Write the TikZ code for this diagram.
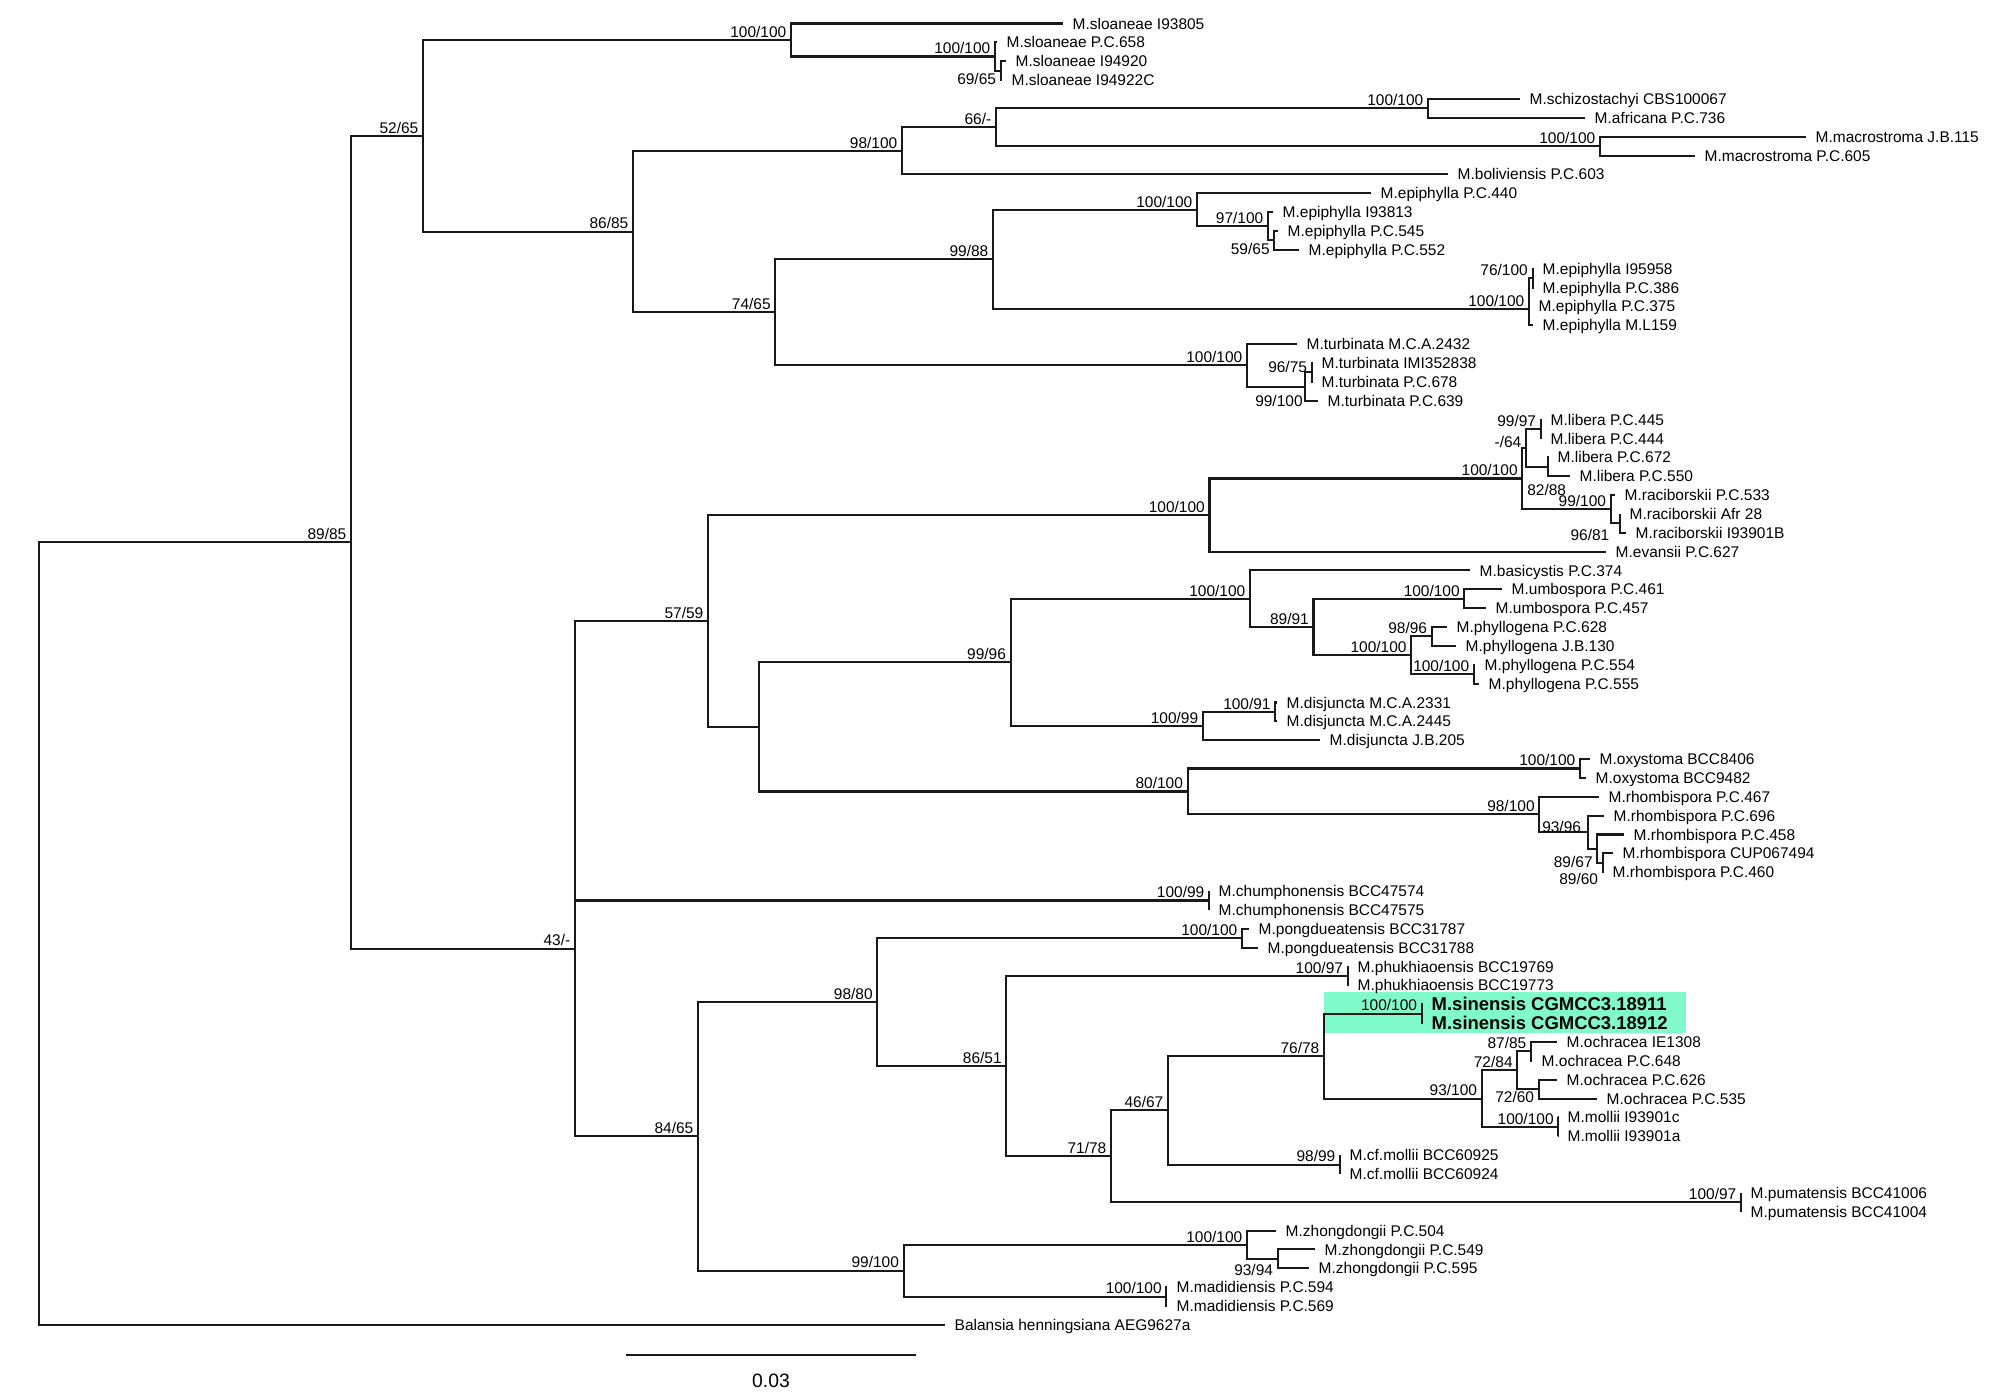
\documentclass[tikz,border=0pt]{standalone}
\usepackage{fontspec}
\setmainfont{Liberation Sans}
\usepackage{tikz}
\usetikzlibrary{positioning}
\definecolor{hilite}{RGB}{128,250,200}

\begin{document}
\begin{tikzpicture}[
        x=0.01cm, y=-0.01cm,
        branch/.style={line width=0.58pt, draw=black!90},
        leaf/.style={anchor=west, inner xsep=0.09cm, inner ysep=0.01cm, text height=3.17pt, text depth=0pt, font=\fontsize{4.4pt}{5pt}\selectfont},
        sinleaf/.style={leaf, text height=3.78pt, font=\fontsize{5.25pt}{6pt}\selectfont\bfseries},
        bs/.style={anchor=south east, inner xsep=0.04cm, inner ysep=0.02cm, text height=3.17pt, text depth=0pt, font=\fontsize{4.4pt}{5pt}\selectfont},
        bsb/.style={bs, anchor=north east},
        scalelbl/.style={inner sep=0.02cm, text height=3.96pt, text depth=0pt, font=\fontsize{5.5pt}{6pt}\selectfont}
    ]
    \useasboundingbox (0,0) rectangle (2012,1396);

    \fill[hilite] (1324,992) rectangle (1686,1032.5);

    \node[leaf] (l1) at (1063,23.5) {M.sloaneae I93805};
    \node[leaf] (l2) at (997,42.36) {M.sloaneae P.C.658};
    \node[leaf] (l3) at (1006,61.22) {M.sloaneae I94920};
    \node[leaf] (l4) at (1002,80.08) {M.sloaneae I94922C};
    \node[leaf] (l5) at (1520,98.94) {M.schizostachyi CBS100067};
    \node[leaf] (l6) at (1585,117.8) {M.africana P.C.736};
    \node[leaf] (l7) at (1806,136.66) {M.macrostroma J.B.115};
    \node[leaf] (l8) at (1695,155.52) {M.macrostroma P.C.605};
    \node[leaf] (l9) at (1448,174.38) {M.boliviensis P.C.603};
    \node[leaf] (l10) at (1371,193.24) {M.epiphylla P.C.440};
    \node[leaf] (l11) at (1273,212.1) {M.epiphylla I93813};
    \node[leaf] (l12) at (1278,230.96) {M.epiphylla P.C.545};
    \node[leaf] (l13) at (1299,249.82) {M.epiphylla P.C.552};
    \node[leaf] (l14) at (1533,268.68) {M.epiphylla I95958};
    \node[leaf] (l15) at (1533,287.54) {M.epiphylla P.C.386};
    \node[leaf] (l16) at (1529,306.4) {M.epiphylla P.C.375};
    \node[leaf] (l17) at (1533,325.26) {M.epiphylla M.L159};
    \node[leaf] (l18) at (1297,344.12) {M.turbinata M.C.A.2432};
    \node[leaf] (l19) at (1312,362.98) {M.turbinata IMI352838};
    \node[leaf] (l20) at (1312,381.84) {M.turbinata P.C.678};
    \node[leaf] (l21) at (1318,400.7) {M.turbinata P.C.639};
    \node[leaf] (l22) at (1541,419.56) {M.libera P.C.445};
    \node[leaf] (l23) at (1541,438.42) {M.libera P.C.444};
    \node[leaf] (l24) at (1548,457.28) {M.libera P.C.672};
    \node[leaf] (l25) at (1570,476.14) {M.libera P.C.550};
    \node[leaf] (l26) at (1615,495.0) {M.raciborskii P.C.533};
    \node[leaf] (l27) at (1620,513.86) {M.raciborskii Afr 28};
    \node[leaf] (l28) at (1626,532.72) {M.raciborskii I93901B};
    \node[leaf] (l29) at (1606,551.58) {M.evansii P.C.627};
    \node[leaf] (l30) at (1470,570.44) {M.basicystis P.C.374};
    \node[leaf] (l31) at (1502,589.3) {M.umbospora P.C.461};
    \node[leaf] (l32) at (1486,608.16) {M.umbospora P.C.457};
    \node[leaf] (l33) at (1447,627.02) {M.phyllogena P.C.628};
    \node[leaf] (l34) at (1456,645.88) {M.phyllogena J.B.130};
    \node[leaf] (l35) at (1475,664.74) {M.phyllogena P.C.554};
    \node[leaf] (l36) at (1479,683.6) {M.phyllogena P.C.555};
    \node[leaf] (l37) at (1277,702.46) {M.disjuncta M.C.A.2331};
    \node[leaf] (l38) at (1277,721.32) {M.disjuncta M.C.A.2445};
    \node[leaf] (l39) at (1320,740.18) {M.disjuncta J.B.205};
    \node[leaf] (l40) at (1590,759.04) {M.oxystoma BCC8406};
    \node[leaf] (l41) at (1586,777.9) {M.oxystoma BCC9482};
    \node[leaf] (l42) at (1599,796.76) {M.rhombispora P.C.467};
    \node[leaf] (l43) at (1604,815.62) {M.rhombispora P.C.696};
    \node[leaf] (l44) at (1624,834.48) {M.rhombispora P.C.458};
    \node[leaf] (l45) at (1613,853.34) {M.rhombispora CUP067494};
    \node[leaf] (l46) at (1603,872.2) {M.rhombispora P.C.460};
    \node[leaf] (l47) at (1209,891.06) {M.chumphonensis BCC47574};
    \node[leaf] (l48) at (1209,909.92) {M.chumphonensis BCC47575};
    \node[leaf] (l49) at (1249,928.78) {M.pongdueatensis BCC31787};
    \node[leaf] (l50) at (1258,947.64) {M.pongdueatensis BCC31788};
    \node[leaf] (l51) at (1348,966.5) {M.phukhiaoensis BCC19769};
    \node[leaf] (l52) at (1348,985.36) {M.phukhiaoensis BCC19773};
    \node[sinleaf] (l53) at (1422,1004.22) {M.sinensis CGMCC3.18911};
    \node[sinleaf] (l54) at (1422,1023.08) {M.sinensis CGMCC3.18912};
    \node[leaf] (l55) at (1557,1041.94) {M.ochracea IE1308};
    \node[leaf] (l56) at (1532,1060.8) {M.ochracea P.C.648};
    \node[leaf] (l57) at (1557,1079.66) {M.ochracea P.C.626};
    \node[leaf] (l58) at (1597,1098.52) {M.ochracea P.C.535};
    \node[leaf] (l59) at (1558,1117.38) {M.mollii I93901c};
    \node[leaf] (l60) at (1558,1136.24) {M.mollii I93901a};
    \node[leaf] (l61) at (1340,1155.1) {M.cf.mollii BCC60925};
    \node[leaf] (l62) at (1340,1173.96) {M.cf.mollii BCC60924};
    \node[leaf] (l63) at (1741,1192.82) {M.pumatensis BCC41006};
    \node[leaf] (l64) at (1741,1211.68) {M.pumatensis BCC41004};
    \node[leaf] (l65) at (1276,1230.54) {M.zhongdongii P.C.504};
    \node[leaf] (l66) at (1315,1249.4) {M.zhongdongii P.C.549};
    \node[leaf] (l67) at (1309,1268.26) {M.zhongdongii P.C.595};
    \node[leaf] (l68) at (1167,1287.12) {M.madidiensis P.C.594};
    \node[leaf] (l69) at (1167,1305.98) {M.madidiensis P.C.569};
    \node[leaf] (l70) at (945,1324.84) {Balansia henningsiana AEG9627a};

    \coordinate (root) at (39,933.5);
    \coordinate (ingroup) at (351,542.17);
    \coordinate (clA) at (423,135.78);
    \coordinate (sloan) at (791,40.0);
    \coordinate (sloanB) at (995,56.5);
    \coordinate (sloanC) at (1000.7,70.65);
    \coordinate (clB) at (633,231.55);
    \coordinate (macroCl) at (902,150.8);
    \coordinate (schizoCl) at (996,127.23);
    \coordinate (schizo) at (1428,108.37);
    \coordinate (macro) at (1600,146.09);
    \coordinate (epiturb) at (775.4,312.3);
    \coordinate (epi) at (993,259.25);
    \coordinate (epiA) at (1197,209.74);
    \coordinate (epiB) at (1268,226.25);
    \coordinate (epiC) at (1274.3,240.39);
    \coordinate (epiD) at (1529,308.76);
    \coordinate (epiE) at (1529,292.26);
    \coordinate (epiF) at (1532.5,278.11);
    \coordinate (turb) at (1247,365.34);
    \coordinate (turbB) at (1304.6,386.56);
    \coordinate (turbC) at (1311.7,372.41);
    \coordinate (lower) at (575,948.56);
    \coordinate (lowerB) at (575,760.73);
    \coordinate (clC) at (708,620.98);
    \coordinate (libEv) at (1209.5,515.04);
    \coordinate (libRac) at (1522.3,478.5);
    \coordinate (lib) at (1526,447.85);
    \coordinate (libA) at (1540.7,428.99);
    \coordinate (libB) at (1547.7,466.71);
    \coordinate (rac) at (1610.7,509.15);
    \coordinate (racB) at (1620,523.29);
    \coordinate (clD) at (759,726.92);
    \coordinate (umbDis) at (1010.6,662.38);
    \coordinate (basUmb) at (1250,598.73);
    \coordinate (umbPhy) at (1313.5,627.02);
    \coordinate (umbo) at (1464.4,598.73);
    \coordinate (phyl) at (1411.2,655.31);
    \coordinate (phylA) at (1431.7,636.45);
    \coordinate (phylB) at (1473.9,674.17);
    \coordinate (disj) at (1202.9,726.04);
    \coordinate (disjA) at (1275.3,711.89);
    \coordinate (oxyRho) at (1187.6,791.46);
    \coordinate (oxy) at (1580,768.47);
    \coordinate (rhomb) at (1539.3,814.44);
    \coordinate (rhombA) at (1588.3,832.12);
    \coordinate (rhombB) at (1597.3,848.63);
    \coordinate (rhombC) at (1602.7,862.77);
    \coordinate (chum) at (1209,900.49);
    \coordinate (clE) at (698,1136.39);
    \coordinate (clF) at (877.4,1002.16);
    \coordinate (pong) at (1242,938.21);
    \coordinate (clG) at (1006.4,1066.1);
    \coordinate (phuk) at (1347.7,975.93);
    \coordinate (clH) at (1111,1156.28);
    \coordinate (clI) at (1168,1110.31);
    \coordinate (sinOch) at (1324,1056.09);
    \coordinate (sin) at (1421.7,1013.65);
    \coordinate (ochMol) at (1481.7,1098.52);
    \coordinate (och) at (1517.3,1070.23);
    \coordinate (ochA) at (1531,1051.37);
    \coordinate (ochB) at (1538.7,1089.09);
    \coordinate (moll) at (1558.3,1126.81);
    \coordinate (cfmol) at (1340,1164.53);
    \coordinate (puma) at (1741,1202.25);
    \coordinate (zhoMad) at (903.6,1270.62);
    \coordinate (zho) at (1247,1244.69);
    \coordinate (zhoB) at (1277.7,1258.83);
    \coordinate (mad) at (1166.4,1296.55);

    \draw[branch] (root) |- (ingroup) (root) |- (l70.west);
    \draw[branch] (ingroup) |- (clA) (ingroup) |- (lower);
    \draw[branch] (clA) |- (sloan) (clA) |- (clB);
    \draw[branch] (sloan) |- (l1.west) (sloan) |- (sloanB);
    \draw[branch] (sloanB) |- (l2.west) (sloanB) |- (sloanC);
    \draw[branch] (sloanC) |- (l3.west) (sloanC) |- (l4.west);
    \draw[branch] (clB) |- (macroCl) (clB) |- (epiturb);
    \draw[branch] (macroCl) |- (schizoCl) (macroCl) |- (l9.west);
    \draw[branch] (schizoCl) |- (schizo) (schizoCl) |- (macro);
    \draw[branch] (schizo) |- (l5.west) (schizo) |- (l6.west);
    \draw[branch] (macro) |- (l7.west) (macro) |- (l8.west);
    \draw[branch] (epiturb) |- (epi) (epiturb) |- (turb);
    \draw[branch] (epi) |- (epiA) (epi) |- (epiD);
    \draw[branch] (epiA) |- (l10.west) (epiA) |- (epiB);
    \draw[branch] (epiB) |- (l11.west) (epiB) |- (epiC);
    \draw[branch] (epiC) |- (l12.west) (epiC) |- (l13.west);
    \draw[branch] (epiD) |- (epiE) (epiD) |- (l17.west);
    \draw[branch] (epiE) |- (epiF) (epiE) |- (l16.west);
    \draw[branch] (epiF) |- (l14.west) (epiF) |- (l15.west);
    \draw[branch] (turb) |- (l18.west) (turb) |- (turbB);
    \draw[branch] (turbB) |- (turbC) (turbB) |- (l21.west);
    \draw[branch] (turbC) |- (l19.west) (turbC) |- (l20.west);
    \draw[branch] (lower) |- (lowerB) (lower) |- (clE);
    \draw[branch] (lowerB) |- (clC) (lowerB) |- (chum);
    \draw[branch] (clC) |- (libEv) (clC) |- (clD);
    \draw[branch] (libEv) |- (libRac) (libEv) |- (l29.west);
    \draw[branch] (libRac) |- (lib) (libRac) |- (rac);
    \draw[branch] (lib) |- (libA) (lib) |- (libB);
    \draw[branch] (libA) |- (l22.west) (libA) |- (l23.west);
    \draw[branch] (libB) |- (l24.west) (libB) |- (l25.west);
    \draw[branch] (rac) |- (l26.west) (rac) |- (racB);
    \draw[branch] (racB) |- (l27.west) (racB) |- (l28.west);
    \draw[branch] (clD) |- (umbDis) (clD) |- (oxyRho);
    \draw[branch] (umbDis) |- (basUmb) (umbDis) |- (disj);
    \draw[branch] (basUmb) |- (l30.west) (basUmb) |- (umbPhy);
    \draw[branch] (umbPhy) |- (umbo) (umbPhy) |- (phyl);
    \draw[branch] (umbo) |- (l31.west) (umbo) |- (l32.west);
    \draw[branch] (phyl) |- (phylA) (phyl) |- (phylB);
    \draw[branch] (phylA) |- (l33.west) (phylA) |- (l34.west);
    \draw[branch] (phylB) |- (l35.west) (phylB) |- (l36.west);
    \draw[branch] (disj) |- (disjA) (disj) |- (l39.west);
    \draw[branch] (disjA) |- (l37.west) (disjA) |- (l38.west);
    \draw[branch] (oxyRho) |- (oxy) (oxyRho) |- (rhomb);
    \draw[branch] (oxy) |- (l40.west) (oxy) |- (l41.west);
    \draw[branch] (rhomb) |- (l42.west) (rhomb) |- (rhombA);
    \draw[branch] (rhombA) |- (l43.west) (rhombA) |- (rhombB);
    \draw[branch] (rhombB) |- (l44.west) (rhombB) |- (rhombC);
    \draw[branch] (rhombC) |- (l45.west) (rhombC) |- (l46.west);
    \draw[branch] (chum) |- (l47.west) (chum) |- (l48.west);
    \draw[branch] (clE) |- (clF) (clE) |- (zhoMad);
    \draw[branch] (clF) |- (pong) (clF) |- (clG);
    \draw[branch] (pong) |- (l49.west) (pong) |- (l50.west);
    \draw[branch] (clG) |- (phuk) (clG) |- (clH);
    \draw[branch] (phuk) |- (l51.west) (phuk) |- (l52.west);
    \draw[branch] (clH) |- (clI) (clH) |- (puma);
    \draw[branch] (clI) |- (sinOch) (clI) |- (cfmol);
    \draw[branch] (sinOch) |- (sin) (sinOch) |- (ochMol);
    \draw[branch] (sin) |- (l53.west) (sin) |- (l54.west);
    \draw[branch] (ochMol) |- (och) (ochMol) |- (moll);
    \draw[branch] (och) |- (ochA) (och) |- (ochB);
    \draw[branch] (ochA) |- (l55.west) (ochA) |- (l56.west);
    \draw[branch] (ochB) |- (l57.west) (ochB) |- (l58.west);
    \draw[branch] (moll) |- (l59.west) (moll) |- (l60.west);
    \draw[branch] (cfmol) |- (l61.west) (cfmol) |- (l62.west);
    \draw[branch] (puma) |- (l63.west) (puma) |- (l64.west);
    \draw[branch] (zhoMad) |- (zho) (zhoMad) |- (mad);
    \draw[branch] (zho) |- (l65.west) (zho) |- (zhoB);
    \draw[branch] (zhoB) |- (l66.west) (zhoB) |- (l67.west);
    \draw[branch] (mad) |- (l68.west) (mad) |- (l69.west);

    \node[bs] (s-ingroup) at (ingroup) {89/85};
    \node[bs] (s-clA) at (clA) {52/65};
    \node[bs] (s-sloan) at (sloan) {100/100};
    \node[bs] (s-sloanB) at (sloanB) {100/100};
    \node[bsb] (s-sloanC) at (sloanC) {69/65};
    \node[bs] (s-clB) at (clB) {86/85};
    \node[bs] (s-macroCl) at (macroCl) {98/100};
    \node[bs] (s-schizoCl) at (schizoCl) {66/-};
    \node[bs] (s-schizo) at (schizo) {100/100};
    \node[bs] (s-macro) at (macro) {100/100};
    \node[bs] (s-epiturb) at (epiturb) {74/65};
    \node[bs] (s-epi) at (epi) {99/88};
    \node[bs] (s-epiA) at (epiA) {100/100};
    \node[bs] (s-epiB) at (epiB) {97/100};
    \node[bsb] (s-epiC) at (epiC) {59/65};
    \node[bs] (s-epiD) at (epiD) {100/100};
    \node[bs] (s-epiF) at (epiF) {76/100};
    \node[bs] (s-turb) at (turb) {100/100};
    \node[bsb, xshift=0.027cm, yshift=-0.064cm] (s-turbB) at (turbB) {99/100};
    \node[bs, yshift=-0.03cm] (s-turbC) at (turbC) {96/75};
    \node[bs] (s-lower) at (lower) {43/-};
    \node[bs] (s-clC) at (clC) {57/59};
    \node[bs] (s-libEv) at (libEv) {100/100};
    \node[bs] (s-libRac) at (libRac) {100/100};
    \node[bs, yshift=-0.025cm] (s-lib) at (lib) {-/64};
    \node[bs] (s-libA) at (libA) {99/97};
    \node[bsb, xshift=0.23cm, yshift=-0.146cm] (s-libB) at (libB) {82/88};
    \node[bs] (s-rac) at (rac) {99/100};
    \node[bsb, xshift=-0.06cm, yshift=-0.03cm] (s-racB) at (racB) {96/81};
    \node[bs] (s-umbDis) at (umbDis) {99/96};
    \node[bs] (s-basUmb) at (basUmb) {100/100};
    \node[bs] (s-umbPhy) at (umbPhy) {89/91};
    \node[bs] (s-umbo) at (umbo) {100/100};
    \node[bs] (s-phyl) at (phyl) {100/100};
    \node[bs] (s-phylA) at (phylA) {98/96};
    \node[bs] (s-phylB) at (phylB) {100/100};
    \node[bs] (s-disj) at (disj) {100/99};
    \node[bs] (s-disjA) at (disjA) {100/91};
    \node[bs] (s-oxyRho) at (oxyRho) {80/100};
    \node[bs] (s-oxy) at (oxy) {100/100};
    \node[bs] (s-rhomb) at (rhomb) {98/100};
    \node[bs, xshift=-0.026cm, yshift=-0.03cm] (s-rhombA) at (rhombA) {93/96};
    \node[bsb, yshift=-0.05cm] (s-rhombB) at (rhombB) {89/67};
    \node[bsb, yshift=-0.075cm] (s-rhombC) at (rhombC) {89/60};
    \node[bs] (s-chum) at (chum) {100/99};
    \node[bs] (s-clE) at (clE) {84/65};
    \node[bs] (s-clF) at (clF) {98/80};
    \node[bs] (s-pong) at (pong) {100/100};
    \node[bs] (s-clG) at (clG) {86/51};
    \node[bs] (s-phuk) at (phuk) {100/97};
    \node[bs] (s-clH) at (clH) {71/78};
    \node[bs] (s-clI) at (clI) {46/67};
    \node[bs] (s-sinOch) at (sinOch) {76/78};
    \node[bs] (s-sin) at (sin) {100/100};
    \node[bs] (s-ochMol) at (ochMol) {93/100};
    \node[bs] (s-och) at (och) {72/84};
    \node[bs] (s-ochA) at (ochA) {87/85};
    \node[bsb] (s-ochB) at (ochB) {72/60};
    \node[bs] (s-moll) at (moll) {100/100};
    \node[bs] (s-cfmol) at (cfmol) {98/99};
    \node[bs] (s-puma) at (puma) {100/97};
    \node[bs] (s-zhoMad) at (zhoMad) {99/100};
    \node[bs] (s-zho) at (zho) {100/100};
    \node[bsb, yshift=-0.03cm] (s-zhoB) at (zhoB) {93/94};
    \node[bs] (s-mad) at (mad) {100/100};

    \coordinate (sbl) at (626,1355);
    \coordinate (sbr) at (916,1355);
    \coordinate (sbmid) at (771,1355);
    \draw[branch] (sbl) -- (sbr);
    \node[scalelbl, below=0.16cm of sbmid] (sblabel) {0.03};

\end{tikzpicture}
\end{document}
